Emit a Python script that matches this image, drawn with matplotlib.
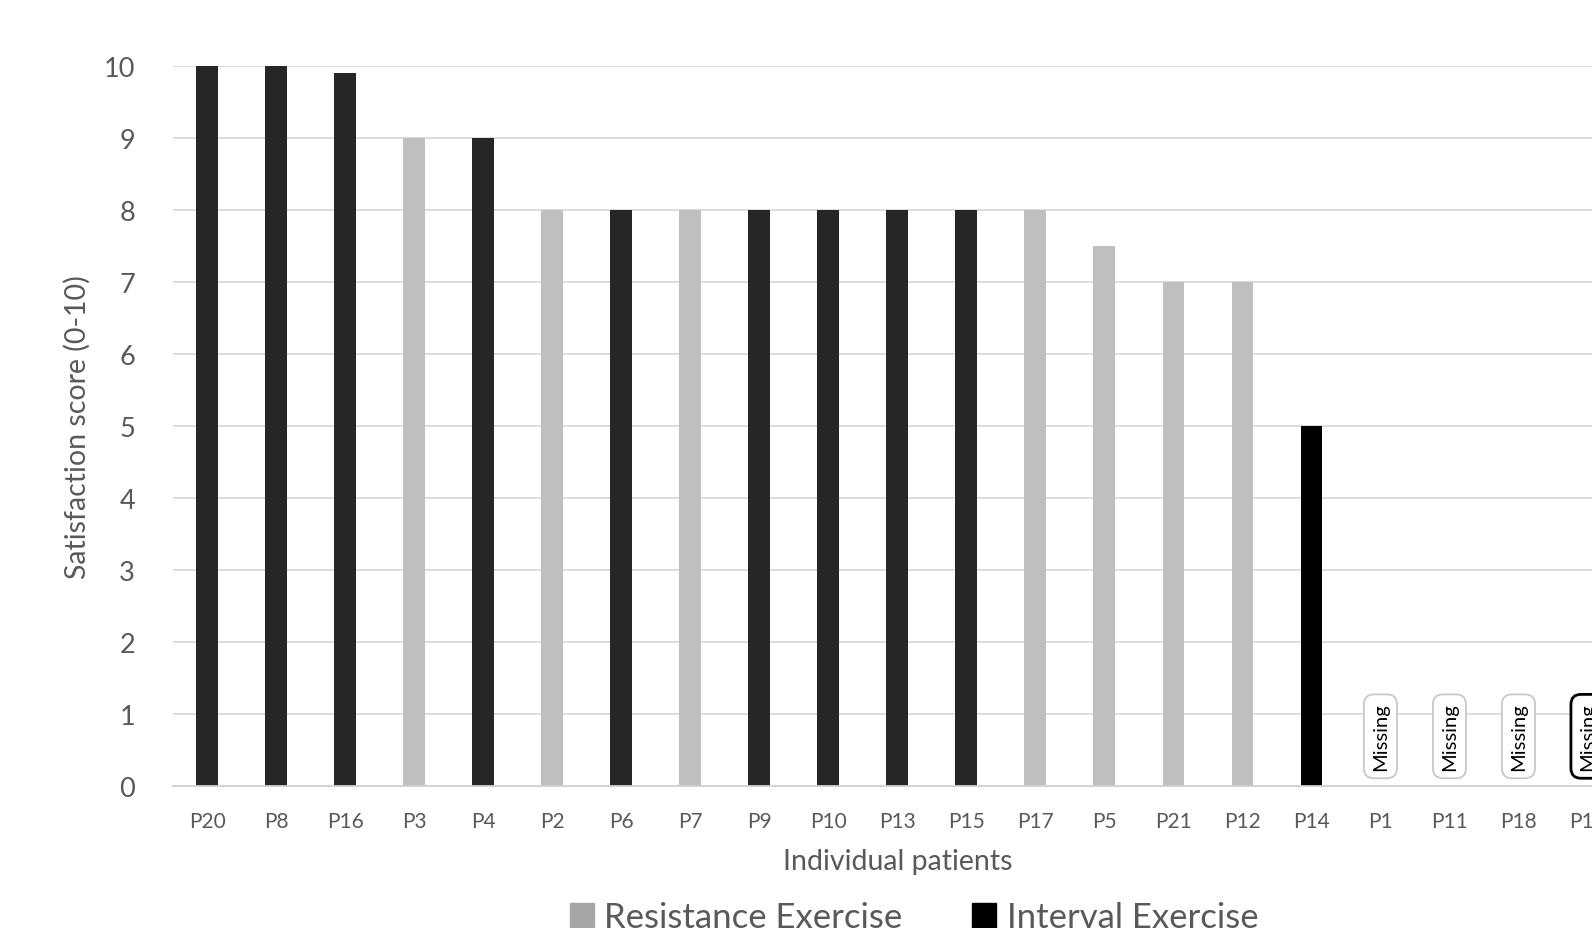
import matplotlib
matplotlib.use("Agg")
import matplotlib.pyplot as plt
from matplotlib.patches import Patch
import numpy as np

plt.rcParams['font.family'] = ['Lato', 'DejaVu Sans']

patients = ["P20", "P8", "P16", "P3", "P4", "P2", "P6", "P7", "P9", "P10", "P13",
            "P15", "P17", "P5", "P21", "P12", "P14", "P1", "P11", "P18", "P19"]
scores = [10, 10, 9.9, 9, 9, 8, 8, 8, 8, 8, 8, 8, 8, 7.5, 7, 7, 5,
          None, None, None, None]
groups = ["I", "I", "I", "R", "I", "R", "I", "R", "I", "I", "I",
          "I", "R", "R", "R", "R", "I", "", "", "", ""]
yticks = list(range(0, 11))

colors = {"R": "#bfbfbf", "I": "#262626"}
highlight = {"P14": "#000000"}

fig = plt.figure(figsize=(15.92, 9.29), dpi=100)
# axes run past the right edge of the figure, as in the cropped source
ax = fig.add_axes([172.6 / 1592, 142 / 929, (1622 - 172.6) / 1592, 720 / 929])

x = np.arange(len(patients))
for i, (p, s, g) in enumerate(zip(patients, scores, groups)):
    if s is None:
        last = i == len(patients) - 1
        ax.text(i, 0.69, "Missing", rotation=90, ha="center", va="center",
                fontsize=14.5, color="black",
                bbox=dict(boxstyle="round,pad=0.4,rounding_size=0.5",
                          fc="white", ec="black" if last else "#c8c8c8",
                          lw=2.0 if last else 1.3))
        continue
    ax.bar(i, s, width=0.315, color=highlight.get(p, colors[g]), zorder=3)

ax.set_xlim(-0.5, len(patients) - 0.5)
ax.set_ylim(0, 10)
ax.set_yticks(yticks)
ax.set_xticks(x)
ax.set_xticklabels(patients)
ax.tick_params(axis="y", length=0, labelsize=19.5, labelcolor="#595959", pad=27)
ax.tick_params(axis="x", length=0, labelsize=15, labelcolor="#595959", pad=18)
ax.grid(axis="y", color="#d9d9d9", lw=1.3, zorder=0)
for sp in ["top", "right", "left"]:
    ax.spines[sp].set_visible(False)
ax.spines["bottom"].set_color("#d0d0d0")
ax.spines["bottom"].set_linewidth(1.3)
ax.spines["bottom"].set_zorder(4)

ax.set_ylabel("Satisfaction score (0-10)", fontsize=20.5, color="#595959")
ax.yaxis.set_label_coords((91 - 172.6) / 1449.4, 0.5)
fig.text(898 / 1592, 1 - 862 / 929, "Individual patients", fontsize=20.5,
         color="#595959", ha="center", va="center")

handles = [Patch(color="#a6a6a6", label="Resistance Exercise"),
           Patch(color="#000000", label="Interval Exercise")]
fig.legend(handles=handles, loc="center", bbox_to_anchor=(914 / 1592, 1 - 918 / 929),
           ncol=2, frameon=False, fontsize=25, handlelength=0.7, handleheight=0.7,
           handletextpad=0.3, columnspacing=2.0, labelcolor="#595959")

fig.savefig("out.png", dpi=100)
